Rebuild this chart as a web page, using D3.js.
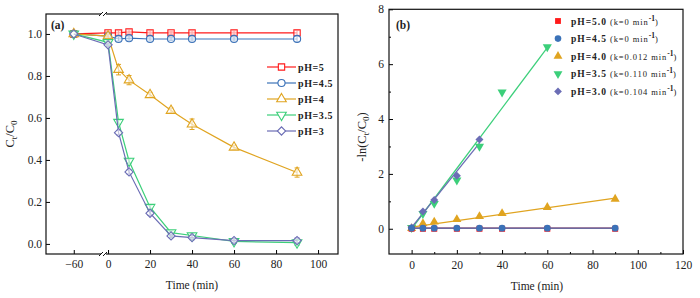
<!DOCTYPE html>
<html>
<head>
<meta charset="utf-8">
<script src="https://cdn.jsdelivr.net/npm/d3@7"></script>
<style>
  body { margin: 0; background: #fff; }
  text { font-family: "Liberation Serif", "DejaVu Serif", serif; fill: #222; }
</style>
</head>
<body>
<div id="chart"></div>
<script>
// panel (a): Ct/C0 vs time
const timesA = [-60, 0, 5, 10, 20, 30, 40, 60, 90]
const namesA = ["pH=5", "pH=4.5", "pH=4", "pH=3.5", "pH=3"]
const valsPH5 = [1.0, 1.005, 1.005, 1.01, 1.005, 1.005, 1.005, 1.005, 1.005]
const valsPH45 = [1.0, 0.99, 0.976, 0.98, 0.976, 0.976, 0.976, 0.976, 0.976]
const valsPH4 = [1.0, 0.99, 0.83, 0.78, 0.71, 0.635, 0.57, 0.46, 0.34]
const valsPH35 = [1.0, 0.96, 0.58, 0.395, 0.175, 0.054, 0.04, 0.012, 0.006]
const valsPH3 = [1.0, 0.948, 0.53, 0.343, 0.146, 0.038, 0.03, 0.016, 0.016]
const errPH4 = [0, 0.01, 0.025, 0.022, 0.012, 0.012, 0.025, 0.01, 0.022]
const errSmall = [0, 0.008, 0.01, 0.01, 0.01, 0.008, 0.01, 0.01, 0.012]
const xTicksA = [-60, 0, 20, 40, 60, 80, 100]
const yTicksA = [0.0, 0.2, 0.4, 0.6, 0.8, 1.0]

// panel (b): -ln(Ct/C0) vs time
const timesB = [0, 5, 10, 20, 30, 40, 60, 90]
const namesB = ["pH=5.0", "pH=4.5", "pH=4.0", "pH=3.5", "pH=3.0"]
const kLabels = ["0", "0", "0.012", "0.110", "0.104"]
const lnPH5 = [0.0, 0.0, 0.0, 0.0, 0.0, 0.0, 0.0, 0.0]
const lnPH45 = [0.02, 0.02, 0.02, 0.02, 0.02, 0.02, 0.02, 0.02]
const lnPH4 = [0.01, 0.19, 0.25, 0.34, 0.45, 0.56, 0.78, 1.08]
const lnPH35 = [0.04, 0.55, 0.92, 1.77, 3.0, 4.98, 6.63]
const lnPH3 = [0.05, 0.63, 1.05, 1.93, 3.25]
// fitted lines, end points [x0, y0, x1, y1]
const fitPH5 = [0, 0.02, 90, 0.02]
const fitPH45 = [0, 0.02, 90, 0.02]
const fitPH4 = [0, 0.06, 90, 1.12]
const fitPH35 = [0, 0.0, 60, 6.6]
const fitPH3 = [0, 0.05, 30, 3.12]
const xTicksB = [0, 20, 40, 60, 80, 100, 120]
const yTicksB = [0, 2, 4, 6, 8]

const colors = ["#ff1a1a", "#3b72b8", "#e0a420", "#3ccf7a", "#6b6db5"]
// square, circle, up triangle, down triangle, diamond (square turned 45deg)
const symbolsA = [d3.symbolSquare, d3.symbolCircle, d3.symbolTriangle, d3.symbolTriangle, d3.symbolSquare]
const rotations = ["", "", "", " rotate(180)", " rotate(45)"]

const svg = d3.select("#chart").append("svg")
    .attr("width", 700)
    .attr("height", 298)

// ---------- panel (a) ----------
const boxA = { left: 46, right: 338, top: 14, bottom: 254 }
const xA = d3.scaleLinear()
    .domain([-73.3, -46, -2.4, 109.5])
    .range([boxA.left, 103, 103, boxA.right])
const yA = d3.scaleLinear()
    .domain([-0.048, 1.095])
    .range([boxA.bottom, boxA.top])

const gA = svg.append("g")

gA.append("g")
    .attr("transform", `translate(0,${boxA.bottom})`)
    .call(d3.axisBottom(xA).tickValues(xTicksA).tickSizeInner(-4).tickSizeOuter(0).tickPadding(6))
    .call(g => g.select(".domain").remove())
    .selectAll("text").attr("font-size", 11.5)

gA.append("g")
    .attr("transform", `translate(${boxA.left},0)`)
    .call(d3.axisLeft(yA).tickValues(yTicksA).tickFormat(d3.format(".1f")).tickSizeInner(-4).tickSizeOuter(0).tickPadding(4))
    .call(g => g.select(".domain").remove())
    .selectAll("text").attr("font-size", 11.5)

gA.append("rect")
    .attr("x", boxA.left).attr("y", boxA.top)
    .attr("width", boxA.right - boxA.left).attr("height", boxA.bottom - boxA.top)
    .attr("fill", "none").attr("stroke", "#111").attr("stroke-width", 1.2)

// axis break marks
for (const yy of [boxA.top, boxA.bottom]) {
    gA.append("rect").attr("x", 101).attr("y", yy - 2).attr("width", 5).attr("height", 4).attr("fill", "#fff")
    for (const dx of [101, 105]) {
        gA.append("line")
            .attr("x1", dx - 2).attr("y1", yy + 2)
            .attr("x2", dx + 2).attr("y2", yy - 2)
            .attr("stroke", "#111").attr("stroke-width", 1)
    }
}

const seriesA = [valsPH5, valsPH45, valsPH4, valsPH35, valsPH3]
const errsA = [errSmall, errSmall, errPH4, errSmall, errSmall]
const lineA = d3.line()
    .x(d => xA(d.t))
    .y(d => yA(d.v))

seriesA.forEach((vals, i) => {
    const pts = vals.map((v, j) => ({ t: timesA[j], v: v, e: errsA[i][j] }))
    gA.append("path")
        .datum(pts)
        .attr("fill", "none")
        .attr("stroke", colors[i])
        .attr("stroke-width", 1.2)
        .attr("d", lineA)
    // error bars
    gA.selectAll(null).data(pts.filter(p => p.e > 0)).enter().append("path")
        .attr("fill", "none").attr("stroke", colors[i]).attr("stroke-width", 1)
        .attr("d", p => {
            const x = xA(p.t), y1 = yA(p.v - p.e), y2 = yA(p.v + p.e)
            return `M${x - 2.5},${y1}H${x + 2.5}M${x},${y1}V${y2}M${x - 2.5},${y2}H${x + 2.5}`
        })
    gA.selectAll(null).data(pts).enter().append("path")
        .attr("transform", p => `translate(${xA(p.t)},${yA(p.v)})` + rotations[i])
        .attr("d", d3.symbol().type(symbolsA[i]).size(i == 4 ? 34 : 40))
        .attr("fill", "#fff")
        .attr("fill-opacity", 0.6)
        .attr("stroke", colors[i])
        .attr("stroke-width", 1.1)
})

// legend (a)
namesA.forEach((name, i) => {
    const ly = 67 + i * 16
    gA.append("line")
        .attr("x1", 267).attr("x2", 296).attr("y1", ly).attr("y2", ly)
        .attr("stroke", colors[i]).attr("stroke-width", 1.2)
    gA.append("path")
        .attr("transform", `translate(281.5,${ly})` + rotations[i])
        .attr("d", d3.symbol().type(symbolsA[i]).size(i == 4 ? 34 : 40))
        .attr("fill", "#fff")
        .attr("stroke", colors[i])
        .attr("stroke-width", 1.1)
    gA.append("text")
        .attr("x", 298).attr("y", ly + 3.5)
        .attr("font-size", 10).attr("font-weight", "bold")
        .attr("letter-spacing", 0.6)
        .text(name)
})

gA.append("text").attr("x", 51).attr("y", 29)
    .attr("font-size", 11.5).attr("font-weight", "bold").text("(a)")

gA.append("text").attr("x", 192).attr("y", 289)
    .attr("text-anchor", "middle").attr("font-size", 11.5).text("Time (min)")

const yLabA = gA.append("text")
    .attr("transform", "translate(14,134) rotate(-90)")
    .attr("text-anchor", "middle").attr("font-size", 12.5)
yLabA.append("tspan").text("C")
yLabA.append("tspan").attr("font-size", 9).attr("dy", 3).text("t")
yLabA.append("tspan").attr("dy", -3).text("/C")
yLabA.append("tspan").attr("font-size", 9).attr("dy", 3).text("0")

// ---------- panel (b) ----------
const boxB = { left: 389, right: 683, top: 9.3, bottom: 254 }
const xB = d3.scaleLinear().domain([-10, 120]).range([boxB.left, boxB.right])
const yB = d3.scaleLinear().domain([-0.92, 8]).range([boxB.bottom, boxB.top])

const gB = svg.append("g")

gB.append("g")
    .attr("transform", `translate(0,${boxB.bottom})`)
    .call(d3.axisBottom(xB).tickValues(xTicksB).tickSizeInner(-4).tickSizeOuter(0).tickPadding(7))
    .call(g => g.select(".domain").remove())
    .selectAll("text").attr("font-size", 11.5)
gB.append("g")
    .attr("transform", `translate(0,${boxB.bottom})`)
    .call(d3.axisBottom(xB).tickValues(d3.range(10, 120, 20)).tickSizeInner(-2).tickSizeOuter(0).tickFormat(""))
    .call(g => g.select(".domain").remove())

gB.append("g")
    .attr("transform", `translate(${boxB.left},0)`)
    .call(d3.axisLeft(yB).tickValues(yTicksB).tickSizeInner(-4).tickSizeOuter(0).tickPadding(5))
    .call(g => g.select(".domain").remove())
    .selectAll("text").attr("font-size", 11.5)
gB.append("g")
    .attr("transform", `translate(${boxB.left},0)`)
    .call(d3.axisLeft(yB).tickValues([1, 3, 5, 7]).tickSizeInner(-2).tickSizeOuter(0).tickFormat(""))
    .call(g => g.select(".domain").remove())

gB.append("rect")
    .attr("x", boxB.left).attr("y", boxB.top)
    .attr("width", boxB.right - boxB.left).attr("height", boxB.bottom - boxB.top)
    .attr("fill", "none").attr("stroke", "#111").attr("stroke-width", 1.2)

const seriesB = [lnPH5, lnPH45, lnPH4, lnPH35, lnPH3]
const fitsB = [fitPH5, fitPH45, fitPH4, fitPH35, fitPH3]

fitsB.forEach((f, i) => {
    gB.append("line")
        .attr("x1", xB(f[0])).attr("y1", yB(f[1]))
        .attr("x2", xB(f[2])).attr("y2", yB(f[3]))
        .attr("stroke", colors[i]).attr("stroke-width", 1.3)
})

function drawMarkersB(vals, i) {
    const pts = vals.map((v, j) => ({ t: timesB[j], v: v }))
    gB.selectAll(null).data(pts).enter().append("path")
        .attr("transform", p => `translate(${xB(p.t)},${yB(p.v)})` + rotations[i])
        .attr("d", d3.symbol().type(symbolsA[i]).size(i == 4 ? 32 : 36))
        .attr("fill", colors[i])
}
// draw higher-pH points last so they sit on top like the original
;[2, 3, 4, 0, 1].forEach(i => drawMarkersB(seriesB[i], i))

// legend (b)
namesB.forEach((name, i) => {
    const ly = 21 + i * 17.6
    gB.append("path")
        .attr("transform", `translate(558,${ly})` + rotations[i])
        .attr("d", d3.symbol().type(symbolsA[i]).size(i == 4 ? 30 : 34))
        .attr("fill", colors[i])
    const t = gB.append("text").attr("x", 571).attr("y", ly + 3.5).attr("font-size", 9.5)
    t.append("tspan").attr("font-weight", "bold").attr("letter-spacing", 1).text(name)
    t.append("tspan").attr("font-size", 8.5).attr("letter-spacing", 0.9).text(" (k=" + kLabels[i] + " min")
    t.append("tspan").attr("font-size", 7.5).attr("font-weight", "bold").attr("dy", -4).text("-1")
    t.append("tspan").attr("font-size", 8.5).attr("dy", 4).text(")")
})

gB.append("text").attr("x", 396).attr("y", 29)
    .attr("font-size", 11.5).attr("font-weight", "bold").text("(b)")

gB.append("text").attr("x", 537).attr("y", 290)
    .attr("text-anchor", "middle").attr("font-size", 11.5).text("Time (min)")

const yLabB = gB.append("text")
    .attr("transform", "translate(366,137) rotate(-90)")
    .attr("text-anchor", "middle").attr("font-size", 12.5)
yLabB.append("tspan").text("-ln(C")
yLabB.append("tspan").attr("font-size", 9).attr("dy", 3).text("t")
yLabB.append("tspan").attr("dy", -3).text("/C")
yLabB.append("tspan").attr("font-size", 9).attr("dy", 3).text("0")
yLabB.append("tspan").attr("dy", -3).text(")")
</script>
</body>
</html>
